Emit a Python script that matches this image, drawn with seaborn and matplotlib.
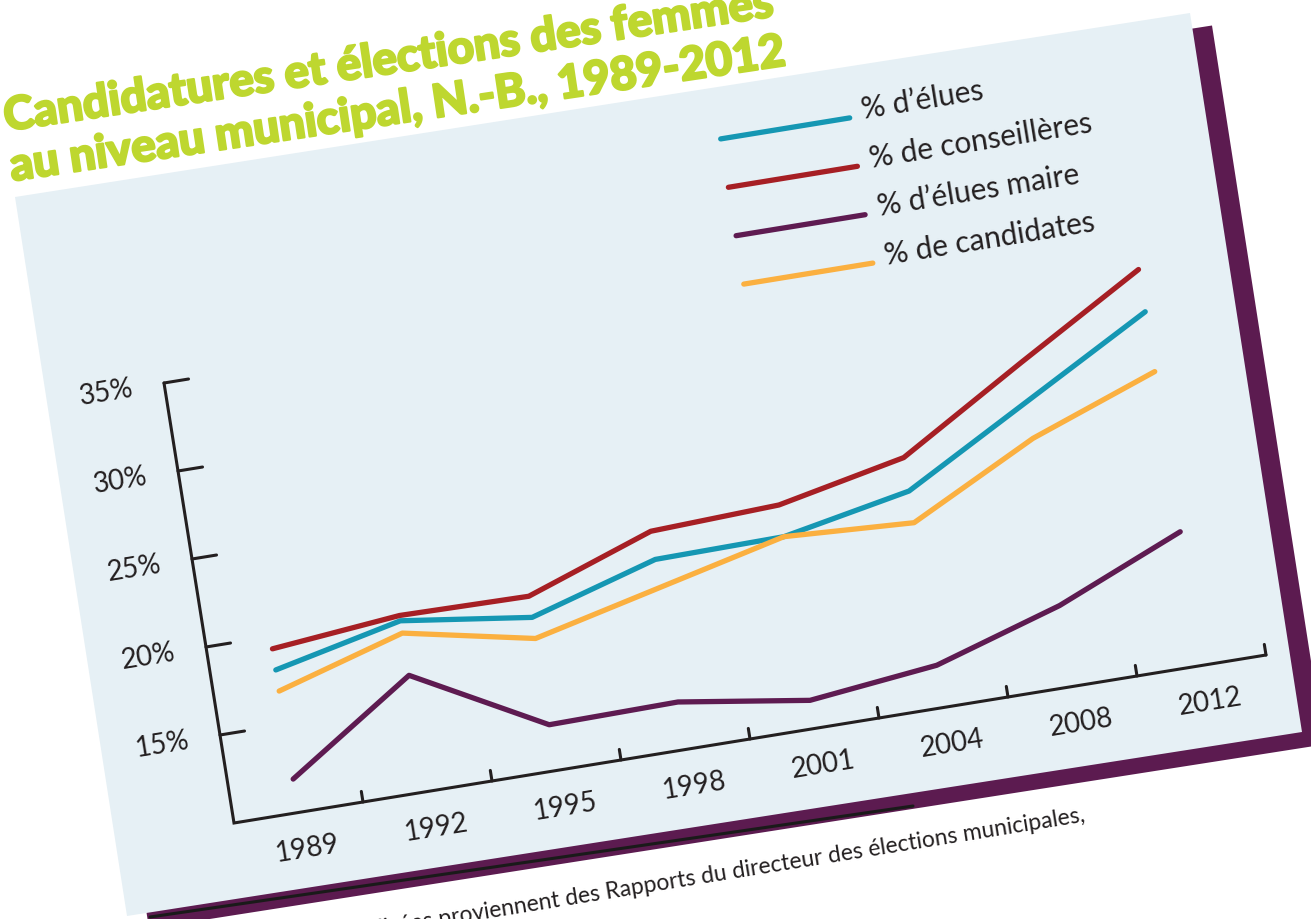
import numpy as np
import pandas as pd
import matplotlib
matplotlib.use('Agg')
import matplotlib.pyplot as plt
import matplotlib.patheffects as pe
import seaborn as sns
from matplotlib.transforms import Affine2D
from matplotlib.patches import Polygon

# data (% of women, N.-B. municipal elections)
years = ['1989', '1992', '1995', '1998', '2001', '2004', '2008', '2012']
elues = [18.1, 19.7, 18.7, 20.8, 20.9, 22.3, 26.2, 30.1]
conseilleres = [19.3, 20.0, 19.9, 22.4, 22.7, 24.2, 28.4, 32.5]
maires = [11.9, 16.6, 12.6, 12.7, 11.6, 12.4, 14.6, 17.6]
candidates = [16.9, 19.0, 17.5, 19.2, 20.9, 20.5, 24.1, 26.7]

series = ['% d’élues', '% de conseillères', '% d’élues maire', '% de candidates']
colors = ['#1597B3', '#A61F24', '#5E1B51', '#FBB040']
yticks = [15, 20, 25, 30, 35]
ylabels = ['15%', '20%', '25%', '30%', '35%']

title = 'Candidatures et élections des femmes\nau niveau municipal, N.-B., 1989-2012'
source = 'Les données utilisées proviennent des Rapports du directeur des élections municipales,'

df = pd.DataFrame({
    'pos': np.tile(np.arange(len(years)) + 0.5, len(series)),
    'pct': elues + conseilleres + maires + candidates,
    'serie': np.repeat(series, len(years)),
})

sns.set_theme(style='white')
plt.rcParams['font.family'] = ['Lato', 'DejaVu Sans']

W, H = 1311, 919
fig = plt.figure(figsize=(W / 100, H / 100), dpi=100)
ax = fig.add_axes([0, 0, 1, 1])

# tilted chart frame: (category slot, percent) -> pixel
frame = Affine2D.from_values(129, -21, -2.8, -17.6, 262, 999)
tr = frame + ax.transData
ink = '#231F20'
ang = 9.2

# card + shadow
card = np.array([[15, 197], [1190, 13], [1302, 732], [127, 916]])
ax.add_patch(Polygon(card + [22, 12.5], closed=True, fc='#5C1B50', ec='none', zorder=0))
ax.add_patch(Polygon(card, closed=True, fc='#E6F0F5', ec='none', zorder=1))
ax.plot([150, 913], [917, 806], color='#1a1a1a', lw=2.2, zorder=1.5)

sns.lineplot(data=df, x='pos', y='pct', hue='serie', hue_order=series,
             palette=colors, linewidth=3.8, legend=False, ax=ax, zorder=4)
for ln in ax.lines[1:]:
    ln.set_transform(tr)
    ln.set_solid_capstyle('round')

# axes
n = len(years)
ax.plot([0, 0, n], [yticks[-1], 10, 10], color=ink, lw=2.2, transform=tr,
        solid_joinstyle='miter', zorder=3)
for v, lab in zip(yticks, ylabels):
    ax.plot([0, 0.19], [v, v], color=ink, lw=2.2, transform=tr, zorder=3)
    ax.text(-0.45, v, lab, transform=tr, ha='center', va='center',
            rotation=ang, fontsize=20, color=ink, zorder=3)
for b in range(1, n + 1):
    ax.plot([b, b], [10, 10.6], color=ink, lw=2.2, transform=tr, zorder=3)
for i, y in enumerate(years):
    ax.text(i + 0.52, 7.9, y, transform=tr, ha='center', va='center',
            rotation=ang, fontsize=20, color=ink, zorder=3)

# legend drawn in the tilted frame
for k, (s, c) in enumerate(zip(series, colors)):
    v = 43.5 - 2.75 * k
    ax.plot([4.5, 5.5], [v, v], color=c, lw=3.8, transform=tr,
            solid_capstyle='round', zorder=4)
    ax.text(5.6, v + 0.3, s, transform=tr, ha='left', va='center',
            rotation=ang, rotation_mode='anchor', fontsize=21.5, color=ink, zorder=4)

# title and source
lines = title.split('\n')
thick = [pe.withStroke(linewidth=1.6, foreground='#BED72F')]
ax.text(6, 131, lines[0], ha='left', va='baseline', rotation=8.5,
        rotation_mode='anchor', fontsize=33, fontweight='black',
        color='#BED72F', path_effects=thick, zorder=5)
ax.text(12, 181, lines[1], ha='left', va='baseline', rotation=8.5,
        rotation_mode='anchor', fontsize=33, fontweight='black',
        color='#BED72F', path_effects=thick, zorder=5)
ax.text(1086, 822, source, ha='right', va='baseline', rotation=ang,
        rotation_mode='anchor', fontsize=16.5, color=ink, zorder=0.5)

ax.set_xlim(0, W)
ax.set_ylim(H, 0)
ax.axis('off')

fig.savefig('out.png', dpi=100)
